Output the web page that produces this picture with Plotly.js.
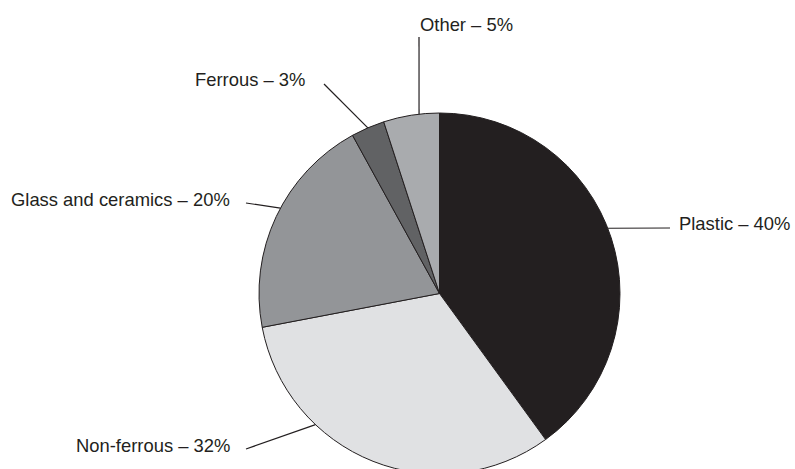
<!DOCTYPE html>
<html>
<head>
<meta charset="utf-8">
<script src="https://cdn.plot.ly/plotly-3.0.1.min.js"></script>
<style>
html, body { margin: 0; padding: 0; overflow: hidden; background: #fff; }
#chart { width: 795px; height: 480px; }
</style>
</head>
<body>
<div id="chart"></div>
<script>
// ---- Data ----
const categories = ['Plastic', 'Non-ferrous', 'Glass and ceramics', 'Ferrous', 'Other'];
const shares = [40, 32, 20, 3, 5];

// ---- Styles ----
const sliceColors = ['#231f20', '#e0e1e3', '#939598', '#616264', '#a9abae'];
const W = 795, H = 480;
const cx = 439.5, cy = 293.5, R = 180.5;   // pie centre / radius in px
const fontFamily = 'Liberation Sans, Arial, Helvetica, sans-serif';

// label placement (layout only): angle shift from slice mid-angle, outer end of leader, text anchor point
const labelLayout = [
  { shift: -3.2, out: [670, 228], txt: [792, 223], anchor: 'right' },
  { shift: 21.8, out: [246, 449], txt: [232, 445], anchor: 'right' },
  { shift: 3.0,  out: [246, 203], txt: [232, 199], anchor: 'right' },
  { shift: 0.0,  out: [324, 84],  txt: [307, 80],  anchor: 'right' },
  { shift: 2.5,  out: [419, 37],  txt: [418, 24],  anchor: 'left' }
];

const total = shares.reduce((a, b) => a + b, 0);
const px = x => x / W;
const py = y => 1 - y / H;

const shapes = [];
const annotations = [];
let cum = 0;
shares.forEach((v, i) => {
  const mid = (cum + v / 2) / total * 360;
  cum += v;
  const L = labelLayout[i];
  const th = (mid + L.shift) * Math.PI / 180;
  const ex = cx + R * Math.sin(th);
  const ey = cy - R * Math.cos(th);
  shapes.push({
    type: 'line', xref: 'paper', yref: 'paper',
    x0: px(L.out[0]), y0: py(L.out[1]), x1: px(ex), y1: py(ey),
    line: { color: '#231f20', width: 1.2 }
  });
  annotations.push({
    xref: 'paper', yref: 'paper',
    x: px(L.txt[0]), y: py(L.txt[1]),
    xanchor: L.anchor, yanchor: 'middle',
    text: categories[i] + ' \u2013 ' + v + '%',
    showarrow: false,
    font: { family: fontFamily, size: 18.4, color: '#231f20' }
  });
});

const trace = {
  type: 'pie',
  labels: categories,
  values: shares,
  sort: false,
  direction: 'clockwise',
  rotation: 0,
  textinfo: 'none',
  hoverinfo: 'label+percent',
  marker: { colors: sliceColors, line: { color: '#231f20', width: 1 } },
  domain: {
    x: [(cx - R) / W, (cx + R) / W],
    y: [1 - (cy + R) / H, 1 - (cy - R) / H]
  },
  showlegend: false
};

const layout = {
  width: W, height: H,
  margin: { l: 0, r: 0, t: 0, b: 0 },
  paper_bgcolor: '#ffffff',
  plot_bgcolor: '#ffffff',
  showlegend: false,
  shapes: shapes,
  annotations: annotations
};

Plotly.newPlot('chart', [trace], layout, { displayModeBar: false, staticPlot: true });
</script>
</body>
</html>
